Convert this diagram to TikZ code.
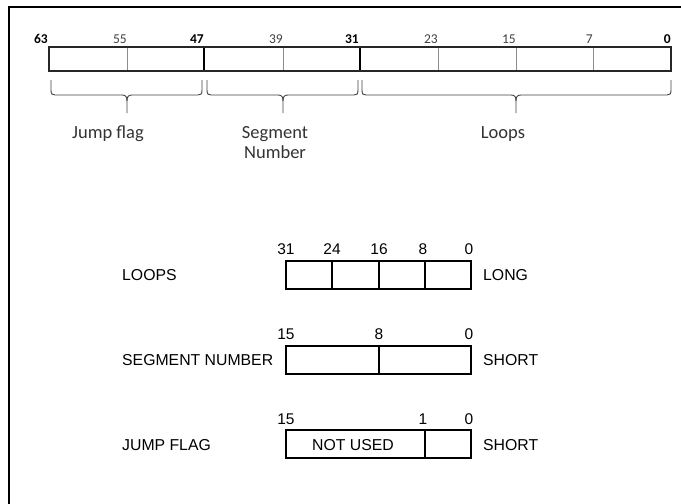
\documentclass[tikz,border=0pt]{standalone}
\usepackage{fontspec}
\newfontfamily\calfnt{Carlito}
\newfontfamily\arifnt{Liberation Sans}
\tikzset{
  topnum/.style={inner sep=0pt, anchor=base east, font=\calfnt\fontsize{13.5}{16}\selectfont, text=black!75},
  topbold/.style={topnum, font=\calfnt\bfseries\fontsize{13.5}{16}\selectfont, text=black},
  toplab/.style={inner sep=0pt, anchor=base, font=\calfnt\fontsize{18.5}{22}\selectfont, text=black!80, align=center},
  lownum/.style={inner sep=0pt, anchor=base, font=\arifnt\fontsize{15.5}{18}\selectfont},
  lowlab/.style={inner sep=0pt, anchor=base west, font=\arifnt\fontsize{15.8}{18}\selectfont},
  regout/.style={draw=black!85, line width=1.6pt},
  thindiv/.style={draw=black!45, line width=0.9pt},
  bolddiv/.style={draw=black, line width=1.4pt},
  brace/.style={draw=black!75, line width=0.9pt},
  lowreg/.style={draw=black, line width=1.3pt},
}
\newcommand{\mybrace}[3]{%
  \draw[brace] (#1,80) -- (#1,90) .. controls (#1,94) and (#1+1,95) .. (#1+4,95)
    -- (#3-5,95) .. controls (#3-1,95) and (#3,97) .. (#3,101) -- (#3,113);
  \draw[brace] (#3,101) .. controls (#3,97) and (#3+1,95) .. (#3+5,95)
    -- (#2-4,95) .. controls (#2-1,95) and (#2,94) .. (#2,90) -- (#2,80);
}
\begin{document}
\begin{tikzpicture}[x=1pt,y=-1pt]
\useasboundingbox (0,0) rectangle (681,504);
% frame
\draw[line width=2pt] (9,504) -- (9,7) -- (681,7);
% top register
\draw[thindiv] (127,47) -- (127,71);
\draw[thindiv] (283,47) -- (283,71);
\draw[thindiv] (438,47) -- (438,71);
\draw[thindiv] (516,47) -- (516,71);
\draw[thindiv] (593,47) -- (593,71);
\draw[bolddiv] (204,47) -- (204,71);
\draw[bolddiv] (360,47) -- (360,71);
\draw[regout] (49,47) rectangle (671,71);
% numbers
\node[topbold] (n63) at (48,43.5) {63};
\node[topnum] (n55) at (127,43.5) {55};
\node[topbold] (n47) at (204,43.5) {47};
\node[topnum] (n39) at (283,43.5) {39};
\node[topbold] (n31) at (359,43.5) {31};
\node[topnum] (n23) at (438,43.5) {23};
\node[topnum] (n15) at (516,43.5) {15};
\node[topnum] (n7) at (593,43.5) {7};
\node[topbold] (n0) at (671,43.5) {0};
% braces
\mybrace{51}{202}{127}
\mybrace{207}{358}{283}
\mybrace{362}{671}{516}
\node[toplab] (ljf) at (108,138) {Jump flag};
\node[toplab] (lsn) at (275,138) {Segment};
\node[toplab] (lsn2) at (275,158.5) {Number};
\node[toplab] (llp) at (503,138) {Loops};
% LOOPS register
\draw[lowreg] (332,261) -- (332,289);
\draw[lowreg] (379,261) -- (379,289);
\draw[lowreg] (425,261) -- (425,289);
\draw[lowreg] (286,261) rectangle (471,289);
\node[lownum] (a31) at (286,254.5) {31};
\node[lownum] (a24) at (332,254.5) {24};
\node[lownum] (a16) at (379,254.5) {16};
\node[lownum] (a8) at (423,254.5) {8};
\node[lownum] (a0) at (469,254.5) {0};
\node[lowlab] (lloops) at (122,280) {LOOPS};
\node[lowlab] (llong) at (483,280) {LONG};
% SEGMENT NUMBER register
\draw[lowreg] (379,346) -- (379,374);
\draw[lowreg] (286,346) rectangle (471,374);
\node[lownum] (b15) at (286,339.5) {15};
\node[lownum] (b8) at (379,339.5) {8};
\node[lownum] (b0) at (469,339.5) {0};
\node[lowlab] (lseg) at (122,365) {SEGMENT NUMBER};
\node[lowlab] (lshort1) at (483,365) {SHORT};
% JUMP FLAG register
\draw[lowreg] (425,430) -- (425,458);
\draw[lowreg] (286,430) rectangle (471,458);
\node[lownum] (c15) at (286,424.5) {15};
\node[lownum] (c1) at (423,424.5) {1};
\node[lownum] (c0) at (469,424.5) {0};
\node[lownum, font=\arifnt\fontsize{15.8}{18}\selectfont] (notused) at (353,450) {NOT USED};
\node[lowlab] (ljump) at (122,450) {JUMP FLAG};
\node[lowlab] (lshort2) at (483,450) {SHORT};
\end{tikzpicture}
\end{document}
